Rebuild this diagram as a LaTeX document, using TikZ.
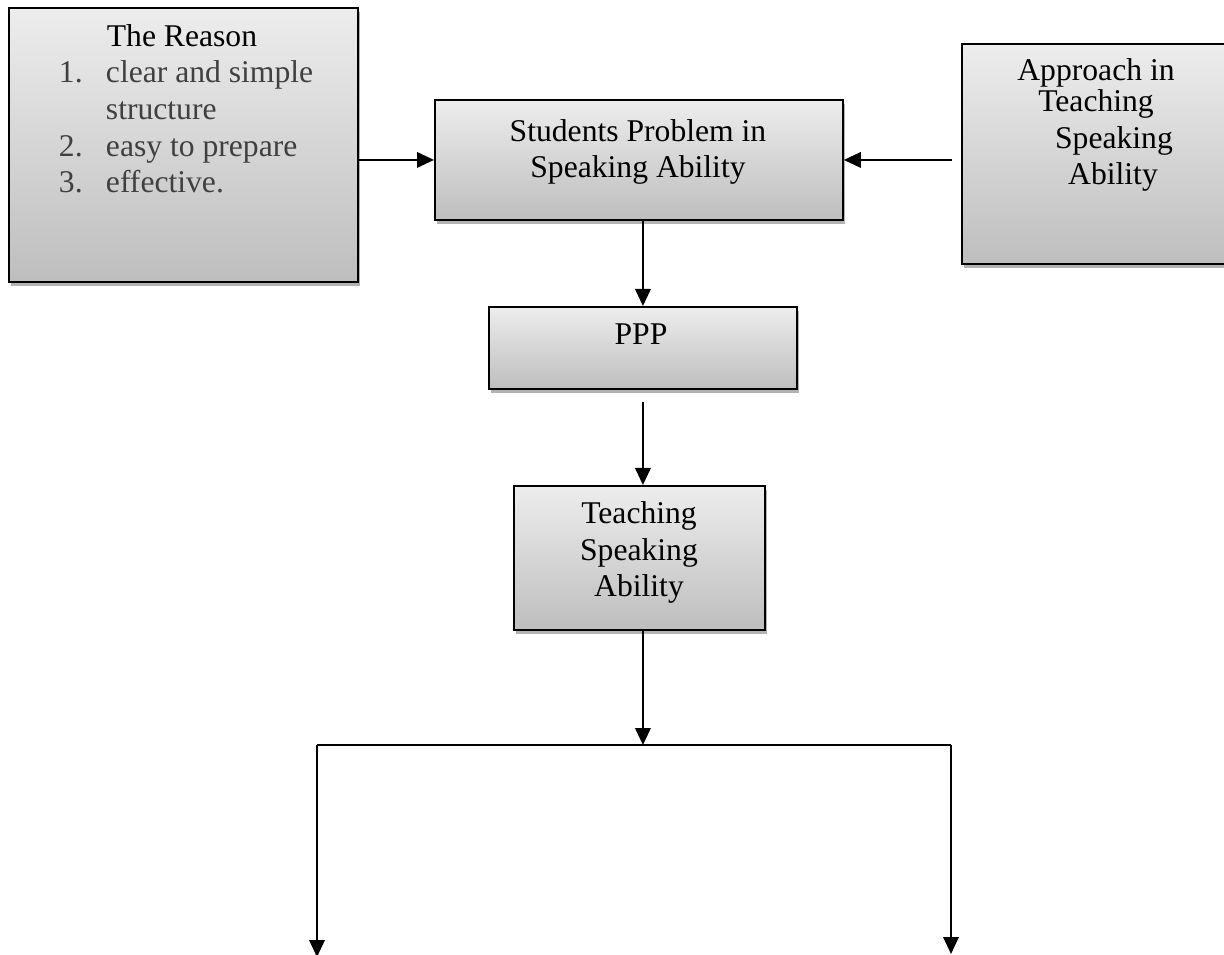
\documentclass[tikz,border=0pt]{standalone}
\usepackage{fontspec}
\setmainfont{Liberation Serif}
\usetikzlibrary{arrows.meta,shadows}
\definecolor{boxtop}{RGB}{237,237,237}
\definecolor{boxbottom}{RGB}{190,190,190}
\definecolor{itemgrey}{RGB}{64,64,64}

\begin{document}
\begin{tikzpicture}[x=0.02cm, y=-0.02cm, line width=1.1pt,
        >={Triangle[length=3.4mm,width=3.1mm]}]
      \tikzstyle{box} = [draw, rectangle, anchor=north west, inner sep=0pt,
        top color=boxtop, bottom color=boxbottom,
        drop shadow={shadow xshift=0.04cm, shadow yshift=-0.08cm, fill=gray!60, opacity=1}]
      \tikzstyle{word} = [font=\fontsize{18}{20.8}\selectfont, color=black, inner sep=0pt, align=center]
      \tikzstyle{item} = [word, color=itemgrey, anchor=base west]
      \useasboundingbox (0,0) rectangle (1224,955);
      % boxes
      \node (reason) [box, minimum width=6.98cm, minimum height=5.48cm] at (8,7) {};
      \node (problem) [box, minimum width=8.16cm, minimum height=2.4cm] at (434,99) {};
      \node (approach) [box, minimum width=5.8cm, minimum height=4.4cm] at (961,43) {};
      \node (ppp) [box, minimum width=6.16cm, minimum height=1.64cm] at (488,306) {};
      \node (teach) [box, minimum width=5.02cm, minimum height=2.88cm] at (513,485) {};
      % texts (anchor base = last line)
      \node (reasonHead) [word, anchor=base] at (182,47) {The Reason};
      \foreach \num/\ypos in {1./83, 2./157, 3./193}
        \node (num\ypos) [item] at (58,\ypos) {\num};
      \foreach \txt/\ypos in {clear and simple/83, structure/120, easy to prepare/157, effective./193}
        \node (reason\ypos) [item] at (105,\ypos) {\txt};
      \node (problemText) [word, anchor=base] at (638,178) {Students Problem in\\Speaking Ability};
      \node (approachText) [word, anchor=base] at (1096,185)
        {Approach in\\[-3pt]Teaching\\\hspace*{0.72cm}Speaking\\\hspace*{0.68cm}Ability};
      \node (pppText) [word, anchor=base] at (641,345) {PPP};
      \node (teachText) [word, anchor=base] at (639,597) {Teaching\\Speaking\\Ability};
      % connectors
      \coordinate (forkL) at (317,745);
      \coordinate (forkR) at (951,745);
      \coordinate (endL) at (317,957);
      \coordinate (endR) at (951,954);
      \draw[->] (reason.east |- problem.west) -- (problem.west);
      \draw[->, shorten <=0.18cm] (approach.west |- problem.east) -- (problem.east);
      \draw[->] (ppp.north |- problem.south) -- (ppp.north);
      \draw[->, shorten <=0.24cm] (ppp.south) -- (ppp.south |- teach.north);
      \draw[->] (ppp.south |- teach.south) -- (ppp.south |- forkL);
      \draw (forkL) -- (forkR);
      \draw[->] (forkL) -- (endL);
      \draw[->] (forkR) -- (endR);
    \end{tikzpicture}
\end{document}
